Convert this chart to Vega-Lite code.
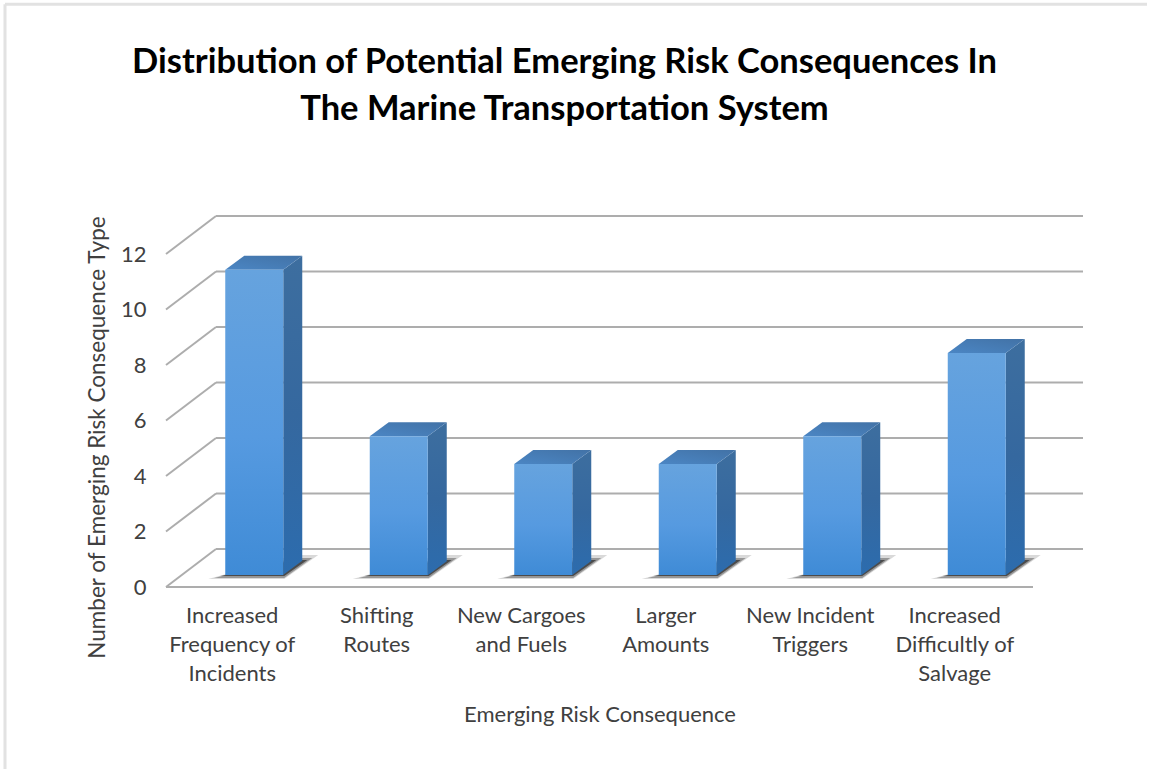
{
"$schema":"https://vega.github.io/schema/vega-lite/v6.json",
"width":867,"height":333,
"autosize":{"type":"none"},
"padding":{"left":166,"top":254,"right":117,"bottom":182},
"background":"white",
"view":{"stroke":null},
"title":{"text":["Distribution of Potential Emerging Risk Consequences In","The Marine Transportation System"],"font":"Lato","fontSize":34.5,"fontWeight":"bold","color":"#000000","anchor":"middle","frame":"group","dx":-35,"offset":-125,"lineHeight":47},
"config":{"font":"Lato"},
"datasets":{
"bars":[
{"category":"Increased Frequency of Incidents","value":11},
{"category":"Shifting Routes","value":5},
{"category":"New Cargoes and Fuels","value":4},
{"category":"Larger Amounts","value":4},
{"category":"New Incident Triggers","value":5},
{"category":"Increased Difficultly of Salvage","value":8}],
"levels":[{"level":0},{"level":2},{"level":4},{"level":6},{"level":8},{"level":10},{"level":12}]
},
"encoding":{
"x":{"field":"category","type":"nominal","sort":null,"scale":{"domain":["Increased Frequency of Incidents","Shifting Routes","New Cargoes and Fuels","Larger Amounts","New Incident Triggers","Increased Difficultly of Salvage"],"paddingInner":0,"paddingOuter":0},
"axis":{"title":"Emerging Risk Consequence","titleFont":"Lato","titleFontSize":22,"titleFontWeight":"normal","titleColor":"#404040","titlePadding":20,"labelFont":"Lato","labelFontSize":22,"labelColor":"#404040","labelAngle":0,"labelPadding":18,"labelOffset":-6,"labelLineHeight":29,"labelLimit":300,"domain":false,"ticks":false,
"labelExpr":"{'Increased Frequency of Incidents':['Increased','Frequency of','Incidents'],'Shifting Routes':['Shifting','Routes'],'New Cargoes and Fuels':['New Cargoes','and Fuels'],'Larger Amounts':['Larger','Amounts'],'New Incident Triggers':['New Incident','Triggers'],'Increased Difficultly of Salvage':['Increased','Difficultly of','Salvage']}[datum.label]",
"encoding":{"labels":{"dx":{"signal":"{'Increased Frequency of Incidents':-5,'Shifting Routes':4,'New Cargoes and Fuels':6,'Larger Amounts':2,'New Incident Triggers':-9,'Increased Difficultly of Salvage':2}[datum.value]"}}}}},
"y":{"type":"quantitative","scale":{"domain":[0,12],"nice":false}}
},
"layer":[
{"data":{"values":[{"edge":"frame"}]},"mark":{"type":"rule","color":"#e2e2e2","strokeWidth":3,"xOffset":-161,"x2Offset":114},
 "encoding":{"x":{"datum":"Increased Frequency of Incidents","bandPosition":0},"x2":{"datum":"Increased Difficultly of Salvage","bandPosition":1},"y":{"datum":21}}},
{"data":{"values":[{"edge":"frame"}]},"mark":{"type":"rule","color":"#e2e2e2","strokeWidth":3,"xOffset":-161},
 "encoding":{"x":{"datum":"Increased Frequency of Incidents","bandPosition":0},"y":{"datum":21},"y2":{"datum":-6.6}}},
{"data":{"name":"levels"},"mark":{"type":"rule","color":"#adadad","strokeWidth":2,"xOffset":50,"x2Offset":50,"yOffset":-38,"y2Offset":-38},
 "encoding":{"x":{"datum":"Increased Frequency of Incidents","bandPosition":0},"x2":{"datum":"Increased Difficultly of Salvage","bandPosition":1},"y":{"field":"level","type":"quantitative","axis":{"values":[0,2,4,6,8,10,12],"title":"Number of Emerging Risk Consequence Type","titleFont":"Lato","titleFontSize":22.5,"titleFontWeight":"normal","titleColor":"#404040","titlePadding":11,"titleY":183,"labelFont":"Lato","labelFontSize":22,"labelColor":"#404040","labelPadding":20,"domain":false,"ticks":false,"grid":false}}}},
{"data":{"name":"levels"},"mark":{"type":"point","filled":false,"shape":"M0 0L50 -38","size":4,"stroke":"#adadad","strokeWidth":2,"opacity":1},
 "encoding":{"x":{"datum":"Increased Frequency of Incidents","bandPosition":0},"y":{"field":"level","type":"quantitative"}}},
{"data":{"values":[{"level":0}]},"mark":{"type":"rule","color":"#adadad","strokeWidth":2},
 "encoding":{"x":null,"y":{"field":"level","type":"quantitative"}}},
{"data":{"name":"bars"},"mark":{"type":"point","filled":true,"shape":"M-46 4L30 4L64 -20L40 -20Z","size":4,"xOffset":16,"yOffset":-12,"fill":"#000000","fillOpacity":0.15,"strokeOpacity":0},
 "encoding":{"x":{"field":"category","type":"nominal"},"y":{"datum":0}}},
{"data":{"name":"bars"},"mark":{"type":"point","filled":true,"shape":"M-40 3L30 3L58 -17L40 -17Z","size":4,"xOffset":16,"yOffset":-12,"fill":"#000000","fillOpacity":0.3,"strokeOpacity":0},
 "encoding":{"x":{"field":"category","type":"nominal"},"y":{"datum":0}}},
{"data":{"name":"bars"},"mark":{"type":"point","filled":true,"shape":"M-34 1L30 1L53 -15L40 -15Z","size":4,"xOffset":16,"yOffset":-12,"fill":"#000000","fillOpacity":0.5,"strokeOpacity":0},
 "encoding":{"x":{"field":"category","type":"nominal"},"y":{"datum":0}}},
{"data":{"name":"bars"},"mark":{"type":"point","filled":true,"size":4,"xOffset":16,"yOffset":-12,"strokeOpacity":0,"opacity":1,
  "fill":{"gradient":"linear","x1":0,"y1":0,"x2":0,"y2":1,"stops":[{"offset":0,"color":"#3d6e9f"},{"offset":0.5,"color":"#35689f"},{"offset":1,"color":"#2c6cae"}]}},
 "encoding":{"x":{"field":"category","type":"nominal"},"y":{"field":"value","type":"quantitative"},
  "shape":{"field":"value","type":"nominal","legend":null,"scale":{"domain":[4,5,8,11],"range":["M29 0L48 -14L48 97L29 111Z","M29 0L48 -14L48 125L29 139Z","M29 0L48 -14L48 208L29 222Z","M29 0L48 -14L48 291L29 305Z"]}}}},
{"data":{"name":"bars"},"mark":{"type":"point","filled":true,"shape":"M-29 0L29 0L48 -14L-10 -14Z","size":4,"xOffset":16,"yOffset":-12,"strokeOpacity":0,"opacity":1,
  "fill":{"gradient":"linear","x1":0,"y1":1,"x2":1,"y2":0,"stops":[{"offset":0,"color":"#4b86c4"},{"offset":1,"color":"#4272a6"}]}},
 "encoding":{"x":{"field":"category","type":"nominal"},"y":{"field":"value","type":"quantitative"}}},
{"data":{"name":"bars"},"mark":{"type":"bar","size":58,"xOffset":16,"yOffset":-12,"y2Offset":-12,
  "fill":{"gradient":"linear","x1":0,"y1":0,"x2":0,"y2":1,"stops":[{"offset":0,"color":"#66a3de"},{"offset":0.55,"color":"#569ae0"},{"offset":1,"color":"#3f8bd6"}]}},
 "encoding":{"x":{"field":"category","type":"nominal"},"y":{"field":"value","type":"quantitative"},"y2":{"datum":0}}}
]
}
